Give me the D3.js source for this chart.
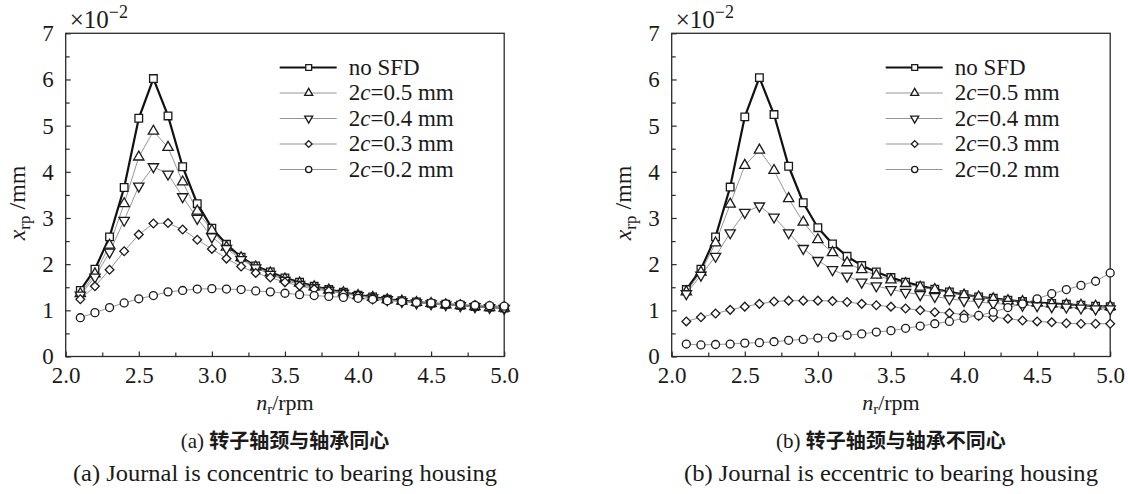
<!DOCTYPE html>
<html>
<head>
<meta charset="utf-8">
<script src="https://cdn.jsdelivr.net/npm/d3@7"></script>
<style>
  html, body { margin: 0; padding: 0; background: #fff; }
  svg { display: block; }
  svg text { font-family: "Liberation Serif", "DejaVu Serif", serif; fill: #1a1a1a; }
  svg text tspan.cjk { font-family: "Noto Sans CJK SC", sans-serif; }
</style>
</head>
<body>
<svg id="chart" width="1128" height="494"></svg>
<script>
// Rotor speed samples (x axis)
const speeds = [2.1, 2.2, 2.3, 2.4, 2.5, 2.6, 2.7, 2.8, 2.9, 3.0,
                3.1, 3.2, 3.3, 3.4, 3.5, 3.6, 3.7, 3.8, 3.9, 4.0,
                4.1, 4.2, 4.3, 4.4, 4.5, 4.6, 4.7, 4.8, 4.9, 5.0];

// Series names shown in the legend
const seriesNames = ["no SFD", "0.5", "0.4", "0.3", "0.2"];

// (a) journal concentric to bearing housing, x_rp in units of 1e-2 mm
const concNoSFD = [1.43, 1.89, 2.59, 3.66, 5.16, 6.02, 5.21, 4.11, 3.31, 2.78,
                   2.43, 2.15, 1.96, 1.83, 1.70, 1.61, 1.52, 1.45, 1.39, 1.33,
                   1.29, 1.24, 1.21, 1.18, 1.15, 1.13, 1.11, 1.08, 1.07, 1.05];
const conc05 = [1.36, 1.79, 2.41, 3.31, 4.32, 4.88, 4.53, 3.78, 3.15, 2.73,
                2.37, 2.14, 1.94, 1.81, 1.68, 1.59, 1.51, 1.44, 1.38, 1.32,
                1.28, 1.23, 1.20, 1.17, 1.15, 1.12, 1.10, 1.08, 1.06, 1.05];
const conc04 = [1.33, 1.72, 2.26, 2.95, 3.69, 4.11, 3.95, 3.46, 2.99, 2.59,
                2.34, 2.10, 1.92, 1.78, 1.65, 1.56, 1.49, 1.43, 1.37, 1.32,
                1.27, 1.23, 1.19, 1.16, 1.14, 1.12, 1.10, 1.08, 1.06, 1.04];
const conc03 = [1.24, 1.52, 1.88, 2.28, 2.64, 2.88, 2.89, 2.75, 2.53, 2.33,
                2.12, 1.95, 1.81, 1.71, 1.61, 1.53, 1.46, 1.42, 1.36, 1.32,
                1.27, 1.23, 1.20, 1.17, 1.15, 1.13, 1.11, 1.08, 1.07, 1.04];
const conc02 = [0.84, 0.95, 1.06, 1.16, 1.25, 1.32, 1.40, 1.43, 1.46, 1.47,
                1.46, 1.45, 1.42, 1.40, 1.37, 1.34, 1.32, 1.30, 1.28, 1.26,
                1.24, 1.21, 1.19, 1.17, 1.16, 1.14, 1.13, 1.11, 1.10, 1.09];

// (b) journal eccentric to bearing housing
const eccNoSFD = [1.45, 1.89, 2.59, 3.67, 5.19, 6.04, 5.24, 4.12, 3.33, 2.79,
                  2.44, 2.17, 1.97, 1.83, 1.71, 1.61, 1.53, 1.46, 1.40, 1.34,
                  1.29, 1.26, 1.22, 1.19, 1.17, 1.15, 1.13, 1.11, 1.09, 1.08];
const ecc05 = [1.40, 1.83, 2.46, 3.30, 4.14, 4.47, 4.03, 3.42, 2.91, 2.53,
               2.25, 2.03, 1.88, 1.76, 1.66, 1.58, 1.50, 1.45, 1.38, 1.33,
               1.29, 1.25, 1.21, 1.19, 1.16, 1.14, 1.12, 1.11, 1.09, 1.08];
const ecc04 = [1.36, 1.76, 2.17, 2.68, 3.12, 3.26, 3.02, 2.68, 2.34, 2.08,
               1.88, 1.74, 1.61, 1.53, 1.45, 1.39, 1.34, 1.30, 1.25, 1.21,
               1.18, 1.15, 1.13, 1.11, 1.10, 1.08, 1.07, 1.05, 1.03, 1.03];
const ecc03 = [0.76, 0.85, 0.93, 1.01, 1.08, 1.14, 1.19, 1.21, 1.21, 1.21,
               1.20, 1.18, 1.14, 1.11, 1.08, 1.04, 1.00, 0.96, 0.94, 0.91,
               0.88, 0.85, 0.82, 0.78, 0.76, 0.74, 0.72, 0.71, 0.71, 0.71];
const ecc02 = [0.27, 0.25, 0.26, 0.27, 0.29, 0.30, 0.32, 0.35, 0.37, 0.40,
               0.42, 0.46, 0.49, 0.53, 0.56, 0.61, 0.66, 0.71, 0.76, 0.83,
               0.89, 0.96, 1.06, 1.14, 1.25, 1.36, 1.45, 1.54, 1.63, 1.81];

// Axis ticks
const xTicks = [2.0, 2.5, 3.0, 3.5, 4.0, 4.5, 5.0];
const yTicks = [0, 1, 2, 3, 4, 5, 6, 7];

// Captions
const captionsCN = ["转子轴颈与轴承同心", "转子轴颈与轴承不同心"];
const captionsEN = ["Journal is concentric to bearing housing", "Journal is eccentric to bearing housing"];
const panelTags = ["(a)", "(b)"];

const SERIF = '"Liberation Serif", "DejaVu Serif", serif';
const svg = d3.select("#chart");

// symbol shapes: square, up triangle, down triangle, diamond, circle
const shapeSpecs = [
  { type: d3.symbolSquare, size: 58, rot: 0 },
  { type: d3.symbolTriangle, size: 46, rot: 0 },
  { type: d3.symbolTriangle, size: 46, rot: 180 },
  { type: d3.symbolSquare, size: 38, rot: 45 },
  { type: d3.symbolCircle, size: 50, rot: 0 }
];

function drawPanel(idx, left, series) {
  const top = 33.3, bottom = 356.5, width = 438.5;
  const x = d3.scaleLinear().domain([2.0, 5.0]).range([left, left + width]);
  const y = d3.scaleLinear().domain([0, 7]).range([bottom, top]);
  const g = svg.append("g");

  // frame
  g.append("rect")
    .attr("x", left).attr("y", top)
    .attr("width", width).attr("height", bottom - top)
    .attr("fill", "none").attr("stroke", "#2a2a2a").attr("stroke-width", 1.3);

  // axes with inward ticks, plus minor ticks
  const xAxis = d3.axisBottom(x).tickValues(xTicks).tickFormat(d3.format(".1f"))
    .tickSizeInner(-5).tickSizeOuter(0).tickPadding(10.5);
  const xa = g.append("g").attr("transform", `translate(0,${bottom})`).call(xAxis);
  const xMinor = d3.axisBottom(x).tickValues(d3.range(2.25, 5.0, 0.5))
    .tickSizeInner(-4).tickSizeOuter(0).tickFormat("");
  const xm = g.append("g").attr("transform", `translate(0,${bottom})`).call(xMinor);

  const yAxis = d3.axisLeft(y).tickValues(yTicks).tickFormat(d3.format("d"))
    .tickSizeInner(-5).tickSizeOuter(0).tickPadding(12);
  const ya = g.append("g").attr("transform", `translate(${left},0)`).call(yAxis);
  const yMinor = d3.axisLeft(y).tickValues(d3.range(0.5, 7, 1))
    .tickSizeInner(-4).tickSizeOuter(0).tickFormat("");
  const ym = g.append("g").attr("transform", `translate(${left},0)`).call(yMinor);

  [xa, xm, ya, ym].forEach(a => {
    a.attr("font-family", SERIF).attr("font-size", 23);
    a.select(".domain").remove();
    a.selectAll(".tick line").attr("stroke", "#2a2a2a").attr("stroke-width", 1.2);
    a.selectAll(".tick text").style("font-family", SERIF).style("font-size", "23px")
      .attr("fill", "#1a1a1a");
  });

  // exponent note
  const ex = g.append("text")
    .attr("x", left + 4).attr("y", 28).style("font-size", "25px");
  ex.append("tspan").text("×10");
  ex.append("tspan").attr("dy", -10).style("font-size", "18px").text("−2");

  // y label
  const yl = g.append("text").style("font-size", "24px")
    .attr("text-anchor", "middle")
    .attr("transform", `translate(${left - 41},${(top + bottom) / 2 + 8}) rotate(-90)`);
  yl.append("tspan").attr("font-style", "italic").text("x");
  yl.append("tspan").style("font-size", "17px").attr("dy", 5).text("rp");
  yl.append("tspan").attr("dy", -5).text(" /mm");

  // x label
  const xl = g.append("text").style("font-size", "22px")
    .attr("text-anchor", "middle")
    .attr("x", left + width / 2).attr("y", 410);
  xl.append("tspan").attr("font-style", "italic").text("n");
  xl.append("tspan").style("font-size", "15px").attr("dy", 4).text("r");
  xl.append("tspan").attr("dy", -4).text("/rpm");

  // curves
  const line = d3.line().x((d, i) => x(speeds[i])).y(d => y(d));
  series.forEach((vals, s) => {
    g.append("path").datum(vals)
      .attr("d", line)
      .attr("fill", "none")
      .attr("stroke", s === 0 ? "#111" : "#8a8a8a")
      .attr("stroke-width", s === 0 ? 2.2 : 0.9);
  });
  series.forEach((vals, s) => {
    const spec = shapeSpecs[s];
    const sym = d3.symbol().type(spec.type).size(spec.size);
    g.append("g").selectAll("path").data(vals).join("path")
      .attr("d", sym)
      .attr("transform", (d, i) => `translate(${x(speeds[i])},${y(d)}) rotate(${spec.rot})`)
      .attr("fill", "#fff").attr("stroke", "#1a1a1a").attr("stroke-width", 1.3);
  });

  // legend
  const lgX = left + 214, lgY = 67.5, lgStep = 25.5;
  seriesNames.forEach((name, s) => {
    const cy = lgY + s * lgStep;
    g.append("line")
      .attr("x1", lgX).attr("x2", lgX + 57).attr("y1", cy).attr("y2", cy)
      .attr("stroke", s === 0 ? "#111" : "#8a8a8a")
      .attr("stroke-width", s === 0 ? 2.2 : 0.9);
    const spec = shapeSpecs[s];
    g.append("path")
      .attr("d", d3.symbol().type(spec.type).size(spec.size * 0.6)())
      .attr("transform", `translate(${lgX + 29},${cy}) rotate(${spec.rot})`)
      .attr("fill", "#fff").attr("stroke", "#1a1a1a").attr("stroke-width", 1.3);
    const t = g.append("text").style("font-size", "23px")
      .attr("x", lgX + 69).attr("y", cy + 7);
    if (s === 0) {
      t.text(name);
    } else {
      t.append("tspan").text("2");
      t.append("tspan").attr("font-style", "italic").text("c");
      t.append("tspan").text("=" + name + " mm");
    }
  });

  // captions
  const cx = left + width / 2;
  const cn = g.append("text").attr("text-anchor", "middle")
    .attr("x", cx).attr("y", 448);
  cn.append("tspan").style("font-size", "21px").text(panelTags[idx] + " ");
  cn.append("tspan").attr("class", "cjk").style("font-size", "20px").attr("font-weight", 700)
    .text(captionsCN[idx]);

  const enWidth = idx === 0 ? 424 : 414;
  g.append("text").attr("text-anchor", "middle")
    .style("font-size", "23px")
    .attr("x", cx).attr("y", 481)
    .attr("textLength", enWidth).attr("lengthAdjust", "spacingAndGlyphs")
    .text(panelTags[idx] + " " + captionsEN[idx]);
}

drawPanel(0, 65.7, [concNoSFD, conc05, conc04, conc03, conc02]);
drawPanel(1, 671.7, [eccNoSFD, ecc05, ecc04, ecc03, ecc02]);
</script>
</body>
</html>
